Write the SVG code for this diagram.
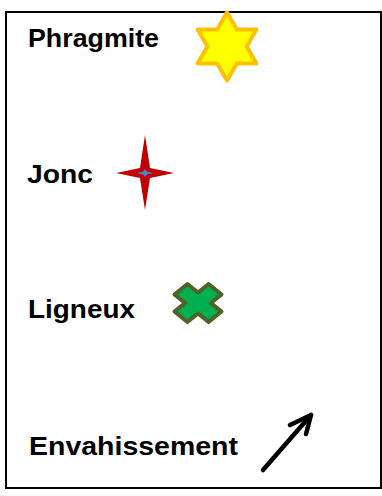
<svg xmlns="http://www.w3.org/2000/svg" width="382" height="496" viewBox="0 0 382 496">
<style>
.lbl{font-family:"Liberation Sans",Arial,sans-serif;font-weight:bold;font-size:26px;fill:#000}
</style>
<rect width="382" height="496" fill="#fff"/>
<rect x="6" y="12" width="375" height="476" fill="none" stroke="#000" stroke-width="2"/>
<g id="phragmite">
<text class="lbl" x="28" y="47" textLength="131" lengthAdjust="spacingAndGlyphs">Phragmite</text>
<path d="M227,12.5 L236.8,29.5 L256.4,29.5 L246.6,46.5 L256.4,63.5 L236.8,63.5 L227,80.5 L217.2,63.5 L197.6,63.5 L207.4,46.5 L197.6,29.5 L217.2,29.5 Z" fill="#FFFF00" stroke="#FFC000" stroke-width="4" stroke-linejoin="round"/>
</g>
<g id="jonc">
<text class="lbl" x="27" y="182.5" textLength="66" lengthAdjust="spacingAndGlyphs">Jonc</text>
<path d="M145,135 L150,168 L174,173 L150,178 L145,210 L140,178 L116,173 L140,168 Z" fill="#C00000"/>
<path d="M145,169 L147,171.5 L153,173 L147,174.5 L145,177 L143,174.5 L137,173 L143,171.5 Z" fill="#4F81BD"/>
</g>
<g id="ligneux">
<text class="lbl" x="28" y="317.5" textLength="107" lengthAdjust="spacingAndGlyphs">Ligneux</text>
<path d="M187.4,284 L198,292.55 L208.6,284 L221.5,294.45 L210.9,303 L221.5,311.55 L208.6,322 L198,313.45 L187.4,322 L174.5,311.55 L185.1,303 L174.5,294.45 Z" fill="#00B050" stroke="#4F6228" stroke-width="4" stroke-linejoin="round"/>
</g>
<g id="envahissement">
<text class="lbl" x="29" y="454.5" textLength="209" lengthAdjust="spacingAndGlyphs">Envahissement</text>
</g>
<g id="connectors">
<path d="M263,470 L311,415" fill="none" stroke="#000" stroke-width="4.5" stroke-linecap="round"/>
<path d="M290,425 L311,415 L306,434" fill="none" stroke="#000" stroke-width="4.5" stroke-linecap="round" stroke-linejoin="round"/>
</g>
</svg>
